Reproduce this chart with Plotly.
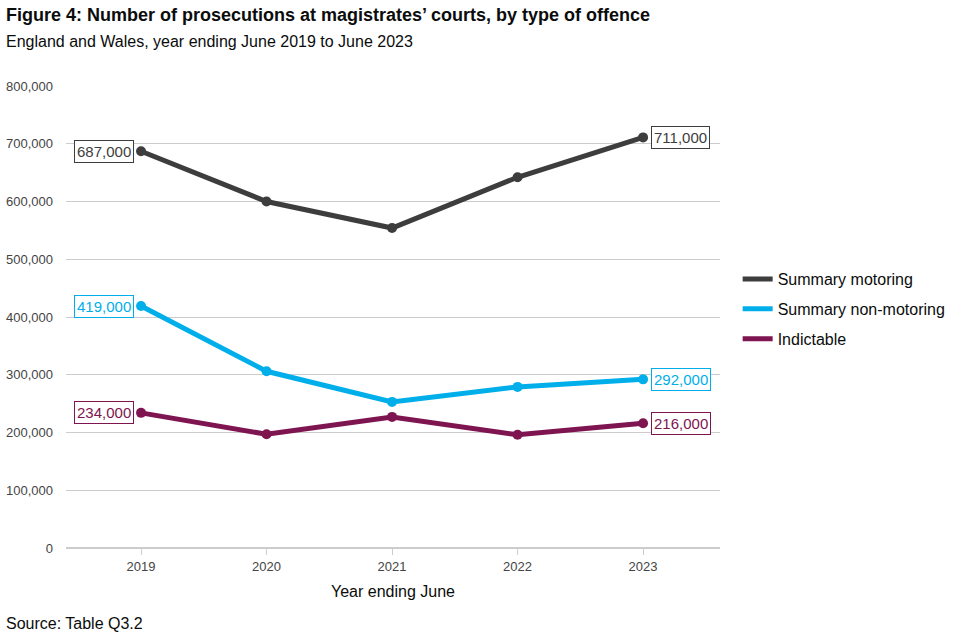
import plotly.graph_objects as go

years = [2019, 2020, 2021, 2022, 2023]
series_names = ["Summary motoring", "Summary non-motoring", "Indictable"]
motoring = [687000, 600000, 554000, 642000, 711000]
non_motoring = [419000, 306000, 253000, 279000, 292000]
indictable = [234000, 197000, 227000, 196000, 216000]
colors = ["#3d3d3d", "#00afea", "#7f1550"]
y_ticks = [0, 100000, 200000, 300000, 400000, 500000, 600000, 700000, 800000]

FONT = "Liberation Sans, Arial, sans-serif"
fig = go.Figure()
for name, vals, col in zip(series_names, [motoring, non_motoring, indictable], colors):
    fig.add_trace(go.Scatter(x=years, y=vals, name=name, mode="lines+markers",
                             line=dict(color=col, width=5),
                             marker=dict(color=col, size=10),
                             showlegend=False, hoverinfo="skip"))
    fig.add_trace(go.Scatter(x=[None], y=[None], name=name, mode="lines",
                             line=dict(color=col, width=5), legendgroup=name,
                             showlegend=True, hoverinfo="skip"))
    for idx, anchor, shift in [(0, "right", -7), (-1, "left", 8)]:
        fig.add_annotation(x=years[idx], y=vals[idx], xref="x", yref="y",
                           text=f"{vals[idx]:,}", showarrow=False,
                           xanchor=anchor, yanchor="middle", xshift=shift,
                           font=dict(family=FONT, size=15, color=col),
                           bgcolor="white", bordercolor=col, borderwidth=1, borderpad=2)

fig.add_annotation(text="<b>Figure 4: Number of prosecutions at magistrates’ courts, by type of offence</b>",
                   xref="paper", yref="paper", x=-62/654, y=1 + (86 - 15) / 462,
                   xanchor="left", yanchor="middle", showarrow=False,
                   font=dict(family=FONT, size=18, color="#0b0c0c"))
fig.add_annotation(text="England and Wales, year ending June 2019 to June 2023",
                   xref="paper", yref="paper", x=-62/654, y=1 + (86 - 41) / 462,
                   xanchor="left", yanchor="middle", showarrow=False,
                   font=dict(family=FONT, size=16, color="#0b0c0c"))
fig.add_annotation(text="Source: Table Q3.2",
                   xref="paper", yref="paper", x=-62/654, y=-(623 - 548) / 462,
                   xanchor="left", yanchor="middle", showarrow=False,
                   font=dict(family=FONT, size=16, color="#0b0c0c"))

fig.update_layout(
    width=960, height=640,
    margin=dict(l=66, r=240, t=86, b=92, autoexpand=False),
    plot_bgcolor="white", paper_bgcolor="white",
    font=dict(family=FONT, color="#555555"),
    showlegend=True,
    legend=dict(x=1.027, y=0.517, xanchor="left", yanchor="middle",
                font=dict(family=FONT, size=16, color="#0b0c0c"),
                tracegroupgap=6, itemwidth=30),
    xaxis=dict(range=[2018.402, 2023.613], tickvals=years, ticktext=[str(y) for y in years],
               showgrid=False, zeroline=False, showline=False, automargin=False,
               ticks="outside", ticklen=6, tickcolor="#cccccc",
               tickfont=dict(family=FONT, size=13, color="#444444"),
               title=dict(text="Year ending June", standoff=13,
                          font=dict(family=FONT, size=16, color="#0b0c0c"))),
    yaxis=dict(range=[0, 800000], tickvals=y_ticks,
               ticktext=[f"{v:,}" for v in y_ticks],
               showgrid=True, gridcolor="#cccccc", gridwidth=1,
               zeroline=True, zerolinecolor="#cccccc", zerolinewidth=1.5,
               showline=False, ticks="", automargin=False,
               ticklabelstandoff=12,
               tickfont=dict(family=FONT, size=13, color="#444444")),
)
fig.write_html("out.html", config={"displayModeBar": False},
               post_script="document.body.style.margin='0';")
